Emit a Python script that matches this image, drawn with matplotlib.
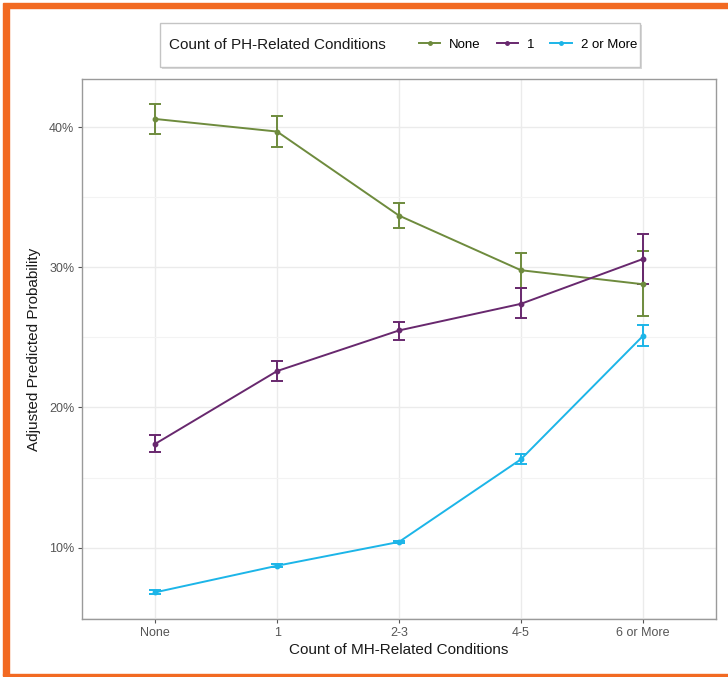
import numpy as np
import matplotlib.pyplot as plt
from matplotlib.lines import Line2D
from matplotlib.patches import Rectangle
from matplotlib.ticker import FuncFormatter, FixedLocator

plt.rcParams['font.family'] = ['Liberation Sans', 'DejaVu Sans']

#-----------------------------------------------
# data (percent)

mh_levels = ["None", "1", "2-3", "4-5", "6 or More"]
ph_levels = ["None", "1", "2 or More"]

none_ph    = [40.6, 39.7, 33.7, 29.8, 28.8]
none_ph_lo = [39.5, 38.6, 32.8, 28.5, 26.5]
none_ph_hi = [41.7, 40.8, 34.6, 31.0, 31.2]

one_ph    = [17.4, 22.6, 25.5, 27.4, 30.6]
one_ph_lo = [16.8, 21.9, 24.8, 26.4, 28.8]
one_ph_hi = [18.0, 23.3, 26.1, 28.5, 32.4]

two_ph    = [6.8, 8.7, 10.4, 16.3, 25.1]
two_ph_lo = [6.65, 8.58, 10.3, 15.95, 24.4]
two_ph_hi = [6.95, 8.82, 10.5, 16.65, 25.9]

colors = ['#6E8B3D', '#68286E', '#1CB5E8']

#-----------------------------------------------

W, H = 728, 677
fig = plt.figure(figsize=(W/100, H/100), dpi=100)
fig.patch.set_facecolor('white')

# orange frame (top, left, bottom)
fig.patches.append(Rectangle((3/W, 1-8/H), 1-3/W, 5/H, transform=fig.transFigure,
                             color='#F26A22', zorder=0))
fig.patches.append(Rectangle((3/W, 2/H), 6/W, 1-10/H, transform=fig.transFigure,
                             color='#F26A22', zorder=0))
fig.patches.append(Rectangle((3/W, 1/H), 1-3/W, 2/H, transform=fig.transFigure,
                             color='#F26A22', zorder=0))

ax = fig.add_axes([82/W, 1-619/H, (716-82)/W, (619-79)/H])

x = np.arange(len(mh_levels))
series = [(none_ph, none_ph_lo, none_ph_hi),
          (one_ph, one_ph_lo, one_ph_hi),
          (two_ph, two_ph_lo, two_ph_hi)]

handles = []
for (y, lo, hi), c in zip(series, colors):
  y = np.array(y); lo = np.array(lo); hi = np.array(hi)
  ax.errorbar(x, y, yerr=[y-lo, hi-y], color=c, lw=1.4, marker='o', ms=3.2,
              capsize=4.3, capthick=1.4, elinewidth=1.4, zorder=3)
  handles.append(Line2D([], [], color=c, lw=1.4, marker='o', ms=2.5))

ax.set_xlim(-0.6, len(mh_levels)-0.4)
ax.margins(y=0.05)
ax.set_xticks(x)
ax.set_xticklabels(mh_levels)
ax.yaxis.set_major_locator(FixedLocator([10, 20, 30, 40]))
ax.yaxis.set_minor_locator(FixedLocator([5, 15, 25, 35]))
ax.yaxis.set_major_formatter(FuncFormatter(lambda v, p: "%d%%" % v))

ax.grid(True, which='major', color='#EBEBEB', lw=1.0, zorder=0)
ax.grid(True, which='minor', axis='y', color='#F3F3F3', lw=0.8, zorder=0)
ax.set_axisbelow(True)
ax.tick_params(which='minor', length=0)
ax.tick_params(which='major', length=3, color='#555555', labelsize=9,
               labelcolor='#555555', pad=2.5)
for s in ax.spines.values():
  s.set_color('#9A9A9A')
  s.set_linewidth(1.0)

ax.set_xlabel("Count of MH-Related Conditions", fontsize=11, color='#1A1A1A', labelpad=3)
ax.set_ylabel("Adjusted Predicted Probability", fontsize=11, color='#1A1A1A', labelpad=6)

# legend box on top (with a faint shadow)
fig.patches.append(Rectangle((162/W, 1-69/H), 480/W, 44/H, transform=fig.transFigure,
                             facecolor='#D8D8D8', edgecolor='none', zorder=1))
fig.patches.append(Rectangle((160/W, 1-67/H), 480/W, 44/H, transform=fig.transFigure,
                             facecolor='white', edgecolor='#C4C4C4', lw=1.0, zorder=1))
fig.text(169/W, 1-45/H, "Count of PH-Related Conditions", fontsize=11,
         color='#1A1A1A', ha='left', va='center')
fig.legend(handles, ph_levels, loc='center left', bbox_to_anchor=(419/W, 1-45/H),
           ncol=3, frameon=False, fontsize=9.5, handlelength=1.6, handletextpad=0.7,
           columnspacing=1.2, borderpad=0, borderaxespad=0)

fig.savefig("out.png", dpi=100)
